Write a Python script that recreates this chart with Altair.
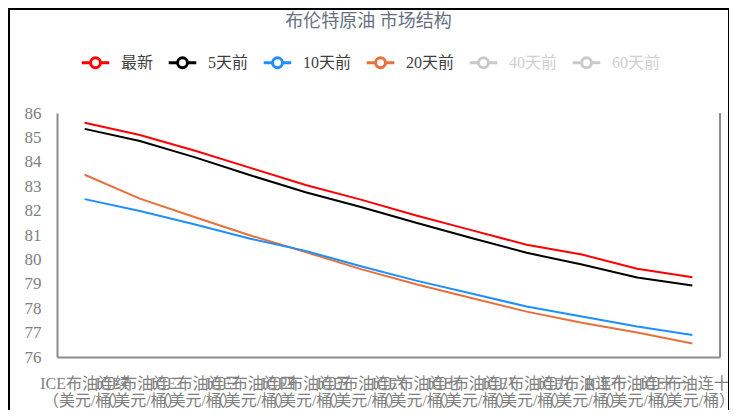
import altair as alt
import pandas as pd

contracts = ["ICE布油连续", "ICE布油连二", "ICE布油连三", "ICE布油连四", "ICE布油连五", "ICE布油连六",
             "ICE布油连七", "ICE布油连八", "ICE布油连九", "ICE布油连十", "ICE布油连十一", "ICE布油连十二"]
series_names = ["最新", "5天前", "10天前", "20天前", "40天前", "60天前"]
series_colors = ["#ff0000", "#000000", "#1e8fff", "#e8703a", "#c9c9c9", "#c9c9c9"]

latest = [85.60, 85.10, 84.45, 83.75, 83.05, 82.45, 81.80, 81.20, 80.60, 80.20, 79.62, 79.27]
d5 = [85.35, 84.85, 84.18, 83.45, 82.75, 82.15, 81.50, 80.88, 80.27, 79.79, 79.26, 78.93]
d10 = [82.47, 81.98, 81.43, 80.85, 80.35, 79.72, 79.13, 78.60, 78.07, 77.66, 77.25, 76.90]
d20 = [83.47, 82.49, 81.73, 80.98, 80.30, 79.60, 78.98, 78.42, 77.86, 77.40, 77.00, 76.55]
y_ticks = [76, 77, 78, 79, 80, 81, 82, 83, 84, 85, 86]

rows = []
for name, vals in [("20天前", d20), ("10天前", d10), ("5天前", d5), ("最新", latest)]:
    for c, v in zip(contracts, vals):
        rows.append({"contract": c, "series": name, "value": v})
df = pd.DataFrame(rows)

FONT = "Liberation Serif, Noto Sans CJK SC"
W, H = 663, 244

sym_path = ("M -1 0 L -0.36 0 M 1 0 L 0.36 0 "
            "M 0.36 0 A 0.36 0.36 0 1 1 -0.36 0 A 0.36 0.36 0 1 1 0.36 0 Z")

lines = alt.Chart(df).mark_line(strokeWidth=2).encode(
    x=alt.X("contract:N", sort=contracts, scale=alt.Scale(type="point", padding=0.5),
            axis=alt.Axis(title=None, labelAngle=0, ticks=False, domainColor="#8c8c8c",
                          domainWidth=2, labelColor="#808080", labelFont=FONT,
                          labelFontSize=16, labelPadding=18, labelLineHeight=17,
                          labelOverlap=False, labelBound=False, labelFlush=False,
                          labelExpr="[datum.label, '（美元/桶）']")),
    y=alt.Y("value:Q", scale=alt.Scale(domain=[76, 86], nice=False, zero=False),
            axis=alt.Axis(title=None, values=y_ticks, ticks=False, grid=False,
                          domainColor="#8c8c8c", domainWidth=2, labelColor="#808080",
                          labelFont=FONT, labelFontSize=17, labelPadding=16)),
    color=alt.Color("series:N", sort=series_names,
                    scale=alt.Scale(domain=series_names, range=series_colors),
                    legend=alt.Legend(title=None, orient="none", direction="horizontal",
                                      legendX=23, legendY=-66, symbolType=sym_path,
                                      symbolSize=760, symbolStrokeWidth=3,
                                      symbolFillColor="white", labelFont=FONT,
                                      labelFontSize=16, labelOffset=10, columnPadding=8,
                                      labelColor={"expr": "indexof(['40天前','60天前'], datum.label) >= 0 ? '#d0d0d0' : '#404040'"})),
    detail="series:N",
)

right_rule = alt.Chart(pd.DataFrame({"a": [0]})).mark_rule(color="#8c8c8c", strokeWidth=2).encode(
    x=alt.value(W), y=alt.value(0), y2=alt.value(H))

border = alt.Chart(pd.DataFrame({"a": [0]})).mark_rect(filled=False, stroke="black", strokeWidth=2).encode(
    x=alt.value(-48), x2=alt.value(672), y=alt.value(-104), y2=alt.value(301))

chart = alt.layer(lines, right_rule, border).properties(
    width=W, height=H,
    autosize=alt.AutoSizeParams(type="none"),
    padding={"left": 49, "top": 105, "right": 9, "bottom": 53},
    title=alt.Title("布伦特原油 市场结构", font=FONT, fontSize=18, fontWeight="normal",
                    color="#666f80", anchor="middle", dx=-20, offset=-23),
).configure_view(stroke=None)

chart.save("out.html", embed_options={"renderer": "svg", "actions": False})
